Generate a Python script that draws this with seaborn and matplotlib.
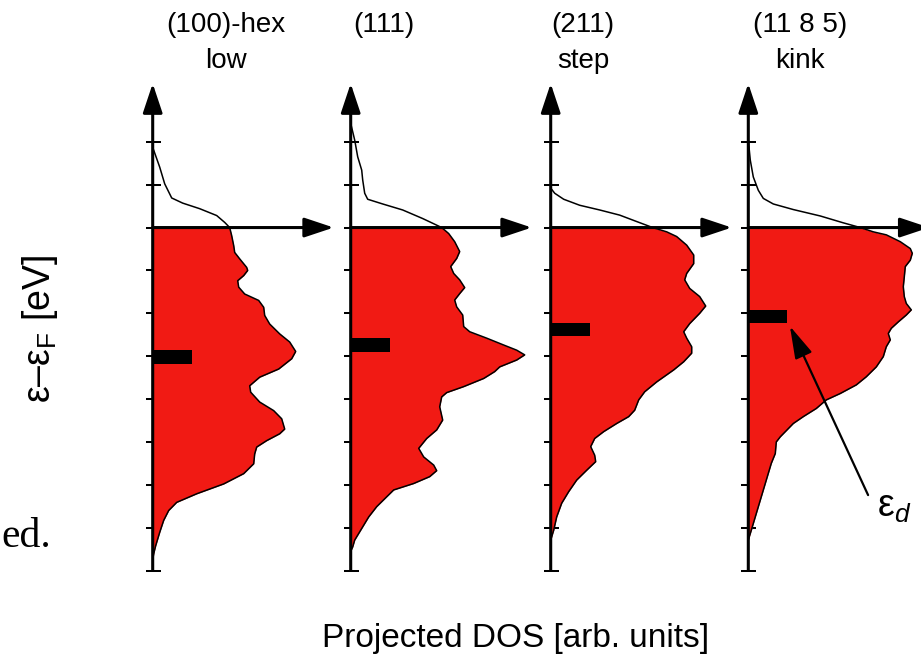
import numpy as np
import pandas as pd
import matplotlib
matplotlib.use("Agg")
import matplotlib.pyplot as plt
import seaborn as sns

# ---------------------------------------------------------------------------
# Projected d-band DOS of four Pt-type surface sites
# energies in eV relative to the Fermi level, DOS in arbitrary units
# ---------------------------------------------------------------------------
surfaces = ["(100)-hex", "(111)", "(211)", "(11 8 5)"]
site_types = ["low", "", "step", "kink"]

# occupied part (E <= 0), filled
e_occ_100hex = [0, -0.19, -0.42, -0.58, -0.73, -0.93, -1.00, -1.12, -1.24, -1.39,
                -1.55, -1.70, -1.86, -2.05, -2.25, -2.48, -2.67, -2.89, -3.06, -3.30,
                -3.49, -3.69, -3.84, -4.07, -4.27, -4.46, -4.70, -4.81, -4.97, -5.12,
                -5.28, -5.51, -5.74, -5.98, -6.21, -6.41, -6.60, -6.83, -7.11, -7.42,
                -7.61, -7.75]
dos_occ_100hex = [3.85, 3.95, 4.05, 4.10, 4.35, 4.70, 4.75, 4.55, 4.25, 4.30,
                  4.60, 5.30, 5.55, 5.60, 5.85, 6.35, 6.85, 7.15, 6.95, 6.30,
                  5.35, 4.85, 4.90, 5.35, 6.05, 6.45, 6.60, 6.35, 5.70, 5.20,
                  5.10, 5.05, 4.55, 3.55, 2.20, 1.20, 0.80, 0.55, 0.35, 0.15,
                  0.05, 0.0]

e_occ_111 = [0, -0.14, -0.33, -0.56, -0.72, -0.91, -1.07, -1.22, -1.40, -1.54,
             -1.69, -1.85, -2.04, -2.31, -2.43, -2.58, -2.74, -2.86, -2.97, -3.09,
             -3.25, -3.36, -3.52, -3.71, -3.85, -3.95, -4.18, -4.49, -4.72, -4.92,
             -5.15, -5.35, -5.54, -5.67, -5.81, -5.97, -6.12, -6.28, -6.51, -6.75,
             -7.02, -7.29, -7.45, -7.55]
dos_occ_111 = [4.55, 4.90, 5.20, 5.45, 5.30, 5.00, 5.15, 5.45, 5.70, 5.45,
               5.20, 5.30, 5.60, 5.65, 5.95, 6.80, 7.65, 8.30, 8.70, 8.30,
               7.45, 7.20, 6.65, 5.65, 4.80, 4.55, 4.45, 4.60, 4.30, 3.80,
               3.40, 3.65, 4.15, 4.30, 3.95, 3.15, 2.15, 1.80, 1.30, 0.90,
               0.55, 0.20, 0.10, 0.0]

e_occ_211 = [0, -0.10, -0.21, -0.41, -0.64, -0.84, -1.07, -1.22, -1.42, -1.61,
             -1.83, -2.00, -2.24, -2.43, -2.58, -2.78, -2.93, -3.13, -3.32, -3.60,
             -3.83, -4.02, -4.26, -4.41, -4.57, -4.76, -4.92, -5.11, -5.31, -5.46,
             -5.66, -5.89, -6.16, -6.43, -6.75, -7.06, -7.29]
dos_occ_211 = [5.10, 5.80, 6.30, 6.80, 7.15, 7.15, 6.80, 6.70, 6.95, 7.45,
               7.75, 7.45, 6.95, 6.65, 6.80, 7.05, 7.05, 6.65, 6.15, 5.30,
               4.70, 4.40, 4.20, 3.90, 3.30, 2.65, 2.20, 2.00, 2.20, 2.25,
               1.80, 1.30, 0.90, 0.55, 0.30, 0.15, 0.0]

e_occ_1185 = [0, -0.10, -0.17, -0.33, -0.49, -0.60, -0.76, -0.91, -1.15, -1.38,
              -1.61, -1.77, -1.92, -2.04, -2.20, -2.35, -2.47, -2.62, -2.78, -3.01,
              -3.25, -3.48, -3.67, -3.87, -4.02, -4.22, -4.41, -4.57, -4.88, -5.00,
              -5.27, -5.50, -5.89, -6.28, -6.67, -7.06, -7.29]
dos_occ_1185 = [5.60, 6.25, 6.90, 7.60, 8.10, 8.20, 8.10, 7.85, 7.80, 7.75,
                7.80, 7.90, 8.15, 7.90, 7.50, 7.15, 7.00, 7.10, 6.90, 6.75,
                6.40, 5.90, 5.40, 4.60, 3.90, 3.40, 2.75, 2.25, 1.60, 1.40,
                1.35, 1.15, 0.90, 0.65, 0.40, 0.15, 0.0]

# unoccupied part (E > 0), outline only
e_emp_100hex = [0.12, 0.28, 0.44, 0.57, 0.69, 1.02, 1.41, 1.87]
dos_emp_100hex = [3.60, 3.20, 2.35, 1.50, 0.95, 0.60, 0.35, 0.0]

e_emp_111 = [0.10, 0.21, 0.41, 0.55, 0.66, 0.80, 1.11, 1.34, 1.65, 2.04, 2.43]
dos_emp_111 = [4.10, 3.60, 2.60, 1.60, 0.85, 0.70, 0.60, 0.55, 0.35, 0.20, 0.0]

e_emp_211 = [0.14, 0.29, 0.41, 0.52, 0.66, 0.80, 0.92]
dos_emp_211 = [4.30, 3.45, 2.45, 1.45, 0.65, 0.20, 0.0]

e_emp_1185 = [0.11, 0.27, 0.42, 0.55, 0.68, 0.87, 1.18, 1.57, 2.04]
dos_emp_1185 = [4.75, 3.60, 2.25, 1.25, 0.75, 0.50, 0.25, 0.10, 0.0]

# d-band centres (eV)
eps_d = [-3.02, -2.74, -2.37, -2.07]

energy_ticks = list(range(-8, 3))

# ---------------------------------------------------------------------------
occ_e = [e_occ_100hex, e_occ_111, e_occ_211, e_occ_1185]
occ_d = [dos_occ_100hex, dos_occ_111, dos_occ_211, dos_occ_1185]
emp_e = [e_emp_100hex, e_emp_111, e_emp_211, e_emp_1185]
emp_d = [dos_emp_100hex, dos_emp_111, dos_emp_211, dos_emp_1185]

frames = []
for name, eo, do, ee, de in zip(surfaces, occ_e, occ_d, emp_e, emp_d):
    frames.append(pd.DataFrame({"surface": name, "energy": eo, "dos": do, "occupied": True}))
    frames.append(pd.DataFrame({"surface": name, "energy": ee, "dos": de, "occupied": False}))
df = pd.concat(frames, ignore_index=True)

sns.set_style("white")
plt.rcParams["font.family"] = ["Liberation Sans", "DejaVu Sans"]
plt.rcParams["text.color"] = "black"
plt.rcParams["mathtext.fontset"] = "custom"
plt.rcParams["mathtext.rm"] = "Liberation Sans"
plt.rcParams["mathtext.it"] = "Liberation Sans:italic"
plt.rcParams["mathtext.bf"] = "Liberation Sans:bold"

RED = "#F11A14"
W, H = 921, 662
fig = plt.figure(figsize=(W / 100, H / 100), dpi=100)

axis_px = [152.7, 350.7, 550.7, 748.3]   # left edge of each panel (pixels)
title_cx = [3.67, 1.67, 1.62, 2.58]        # title centre, DOS units
X_MAX = 9.05
Y_MIN, Y_MAX = -8.3, 3.5
Y_TOP = 3.36
BAR_LEN = 1.95

ax_bottom = 0.11873
ax_height = 0.76420
arrow_kw = dict(arrowstyle="-|>,head_length=0.9,head_width=0.3", mutation_scale=20,
                lw=2.2, color="k", shrinkA=0, shrinkB=0)

for i, name in enumerate(surfaces):
    ax = fig.add_axes([axis_px[i] / W, ax_bottom, 181 / W, ax_height])
    ax.patch.set_alpha(0)
    sub = df[df.surface == name]
    occ = sub[sub.occupied]

    ax.fill_betweenx(occ.energy, 0, occ.dos, color=RED, lw=0, zorder=1)
    sns.lineplot(data=sub, x="dos", y="energy", orient="y", estimator=None,
                 sort=True, color="k", lw=1.1, ax=ax, zorder=2)
    ax.barh(eps_d[i], BAR_LEN, height=0.31, left=0, color="k",
            edgecolor="k", linewidth=0, zorder=3)

    ax.set_xlim(0, X_MAX)
    ax.set_ylim(Y_MIN, Y_MAX)
    ax.set(xlabel="", ylabel="")
    ax.set_xticks([])
    ax.set_yticks(energy_ticks)
    ax.set_yticklabels([])
    ax.tick_params(axis="y", direction="inout", length=10.8, width=1.45,
                   color="k", left=True, labelleft=False)
    for s in ax.spines.values():
        s.set_visible(False)

    # energy axis and DOS axis as arrows
    ax.annotate("", xy=(0, Y_TOP), xytext=(0, energy_ticks[0]),
                arrowprops=arrow_kw, annotation_clip=False, zorder=4)
    ax.annotate("", xy=(X_MAX, 0), xytext=(0, 0),
                arrowprops=arrow_kw, annotation_clip=False, zorder=4)

    ax.text(title_cx[i], 4.57, name, ha="center", va="baseline", fontsize=20,
            color="black", clip_on=False)
    if site_types[i]:
        ax.text(title_cx[i], 3.72, site_types[i], ha="center", va="baseline",
                fontsize=20, color="black", clip_on=False)

    if i == 3:
        ax.annotate("", xy=(BAR_LEN + 0.13, eps_d[i] - 0.23), xytext=(5.99, -6.24),
                    arrowprops=dict(arrowstyle="-|>,head_length=1.0,head_width=0.28",
                                    mutation_scale=20, lw=1.6, color="k",
                                    shrinkA=0, shrinkB=0),
                    annotation_clip=False, zorder=4)
        ax.text(6.43, -6.75, r"ε$_{d}$", fontsize=27, ha="left", va="baseline",
                color="black", clip_on=False)

fig.text(40 / W, 1 - 329 / H, r"ε–ε$_\mathregular{F}$ [eV]", rotation=90,
         ha="center", va="center", fontsize=27, color="black")
fig.text(516 / W, (H - 647) / H, "Projected DOS [arb. units]", ha="center",
         va="baseline", fontsize=24, color="black")
fig.text(1 / W, (H - 546.7) / H, "ed.", ha="left", va="baseline", fontsize=30,
         color="black", family=["Liberation Serif", "DejaVu Serif"])

fig.savefig("out.png", dpi=100)
